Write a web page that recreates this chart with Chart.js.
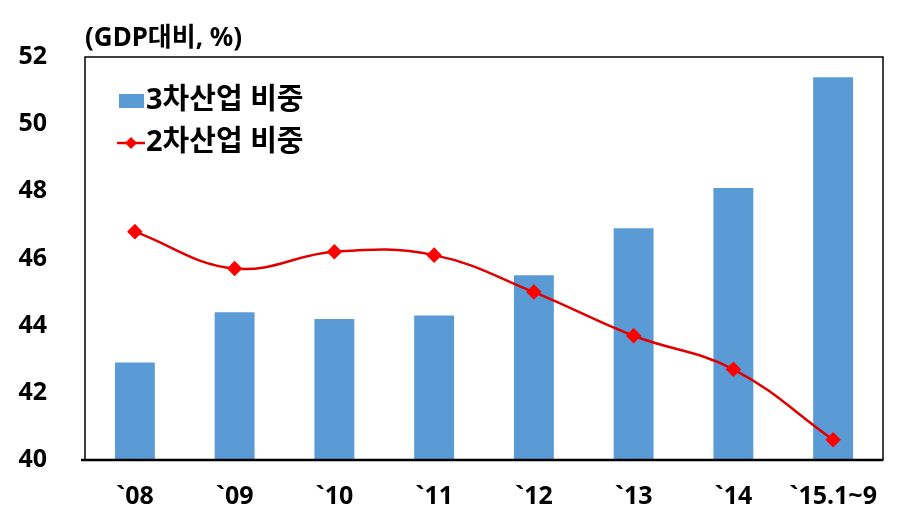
<!DOCTYPE html>
<html>
<head>
<meta charset="utf-8">
<script src="https://cdn.jsdelivr.net/npm/chart.js@4"></script>
<style>
  html, body { margin: 0; padding: 0; background: #fff; }
  #wrap { width: 918px; height: 524px; }
</style>
</head>
<body>
<div id="wrap"><canvas id="c" width="918" height="524"></canvas></div>
<script>
const FONT = "'Noto Sans', 'Noto Sans CJK KR', sans-serif";

// data
const years = ["`08", "`09", "`10", "`11", "`12", "`13", "`14", "`15.1~9"];
const tertiary = [42.9, 44.4, 44.2, 44.3, 45.5, 46.9, 48.1, 51.4];
const secondary = [46.8, 45.7, 46.2, 46.1, 45.0, 43.7, 42.7, 40.6];
const yTicks = [40, 42, 44, 46, 48, 50, 52];
const unitLabel = "(GDP대비, %)";

// legend drawn inside the plot + unit text + frame
const extras = {
    id: "extras",
    afterDraw(chart) {
        const ctx = chart.ctx;
        const a = chart.chartArea;
        ctx.save();
        // frame
        ctx.strokeStyle = "#000";
        ctx.lineWidth = 1.5;
        ctx.strokeRect(a.left, a.top, a.right - a.left, a.bottom - a.top);
        ctx.lineWidth = 2.5;
        ctx.beginPath();
        ctx.moveTo(a.left - 4, a.bottom);
        ctx.lineTo(a.right, a.bottom);
        ctx.stroke();

        // unit
        ctx.fillStyle = "#000";
        ctx.font = "bold 26px " + FONT;
        ctx.textBaseline = "middle";
        ctx.textAlign = "left";
        ctx.fillText(unitLabel, a.left, 39);

        // legend
        const ds = chart.data.datasets;
        const bar = ds.find(d => d.type === "bar");
        const line = ds.find(d => d.type === "line");
        ctx.font = "bold 29px " + FONT;
        const x0 = a.left + 34;
        let y = a.top + 44;
        // bar entry
        ctx.fillStyle = bar.backgroundColor;
        ctx.fillRect(x0, y - 7, 25, 14);
        ctx.fillStyle = "#000";
        ctx.fillText(bar.label, x0 + 27, y);
        y += 42;
        // line entry
        ctx.strokeStyle = line.borderColor;
        ctx.lineWidth = 2.5;
        ctx.beginPath();
        ctx.moveTo(x0 - 2, y);
        ctx.lineTo(x0 + 26, y);
        ctx.stroke();
        ctx.fillStyle = line.pointBackgroundColor;
        ctx.beginPath();
        ctx.moveTo(x0 + 12, y - 6);
        ctx.lineTo(x0 + 18, y);
        ctx.lineTo(x0 + 12, y + 6);
        ctx.lineTo(x0 + 6, y);
        ctx.closePath();
        ctx.fill();
        ctx.fillStyle = "#000";
        ctx.fillText(line.label, x0 + 27, y);
        ctx.restore();
    }
};

new Chart(document.getElementById("c").getContext("2d"), {
    type: "bar",
    data: {
        labels: years,
        datasets: [
            {
                type: "line",
                label: "2차산업 비중",
                data: secondary,
                borderColor: "#E00000",
                borderWidth: 2.5,
                pointStyle: "rectRot",
                pointRadius: 6,
                pointBackgroundColor: "#FF0000",
                pointBorderColor: "#FF0000",
                tension: 0.4,
                fill: false,
                order: 0
            },
            {
                type: "bar",
                label: "3차산업 비중",
                data: tertiary,
                backgroundColor: "#5B9BD5",
                barPercentage: 0.4,
                categoryPercentage: 1.0,
                order: 1
            }
        ]
    },
    options: {
        responsive: false,
        animation: false,
        layout: { padding: { top: 57, right: 35, bottom: 0, left: 0 } },
        plugins: {
            legend: { display: false },
            tooltip: { enabled: false }
        },
        scales: {
            x: {
                grid: { display: false, drawTicks: false },
                border: { display: false },
                ticks: {
                    color: "#000",
                    font: { family: FONT, size: 25, weight: "bold" },
                    padding: 22,
                    maxRotation: 0,
                    autoSkip: false
                },
                afterFit(s) { s.height = 64; }
            },
            y: {
                min: 40,
                max: 52,
                afterBuildTicks(s) { s.ticks = yTicks.map(v => ({ value: v })); },
                grid: { display: false, drawTicks: false },
                border: { display: false },
                ticks: {
                    color: "#000",
                    font: { family: FONT, size: 25, weight: "bold" },
                    padding: 38
                },
                afterFit(s) { s.width = 85; }
            }
        }
    },
    plugins: [extras]
});
</script>
</body>
</html>
